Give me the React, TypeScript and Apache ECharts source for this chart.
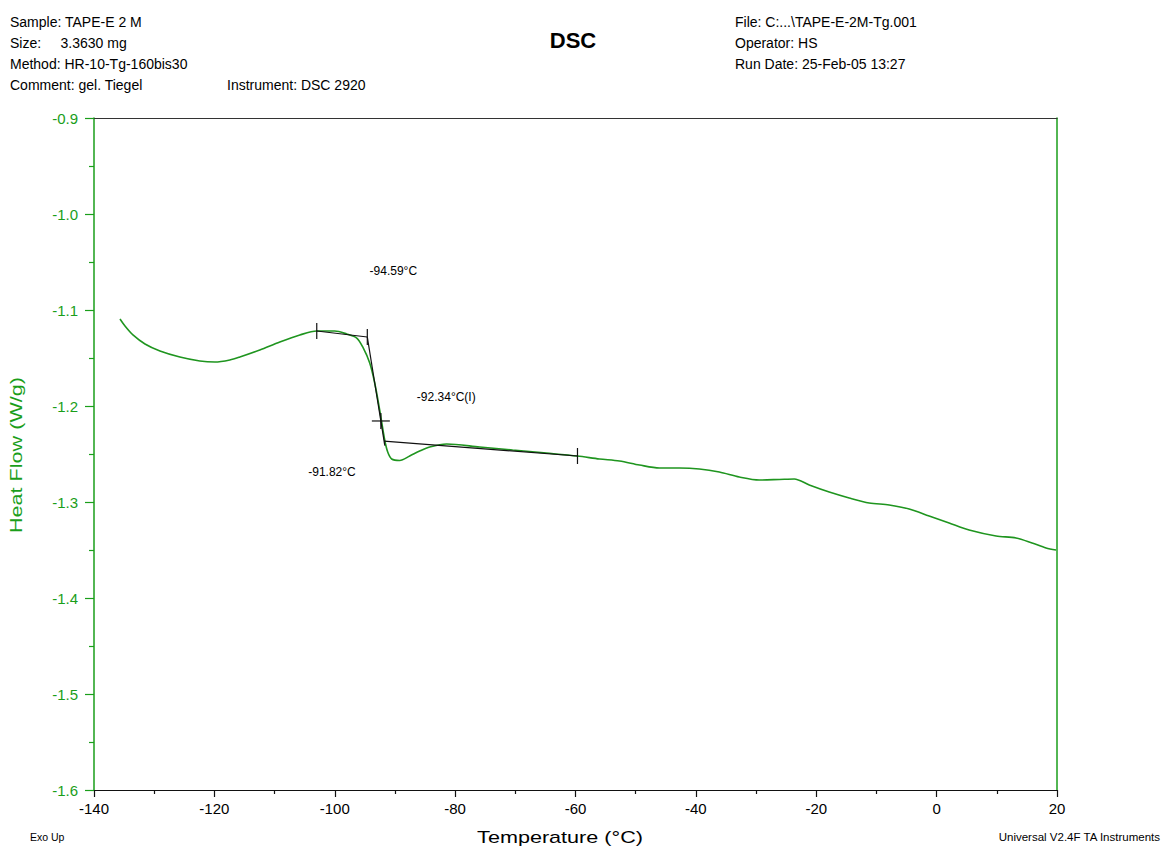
import { useEffect, useRef } from "react";
import * as echarts from "echarts";

// DSC trace: temperature (°C) and heat flow (W/g)
const temperature = [
  -135.68, -134.85, -133.53, -131.53, -129.04, -125.73, -122.41, -119.92, -117.43, -115.77,
  -112.45, -109.13, -105.81, -102.99, -100.0, -98.01, -96.35, -95.35, -94.19, -93.36,
  -92.53, -91.7, -91.2, -90.54, -89.21, -87.55, -85.89, -84.23, -81.41, -75.93,
  -70.45, -64.81, -59.67, -56.01, -52.69, -49.37, -46.05, -42.74, -39.42, -36.1,
  -32.78, -29.46, -26.14, -23.65, -21.16, -17.84, -14.52, -11.2, -7.88, -4.56,
  -1.24, 2.08, 5.4, 9.88, 13.2, 15.86, 18.18, 19.84,
];
const heatFlow = [
  -1.1094, -1.1167, -1.126, -1.1354, -1.1427, -1.149, -1.1531, -1.1542, -1.1521, -1.149,
  -1.1417, -1.1333, -1.126, -1.1219, -1.1219, -1.125, -1.1292, -1.1385, -1.1552, -1.176,
  -1.2042, -1.2354, -1.2479, -1.2552, -1.2568, -1.2521, -1.2469, -1.2427, -1.2396, -1.2427,
  -1.2458, -1.249, -1.2521, -1.2552, -1.2573, -1.2615, -1.2646, -1.2646, -1.2656, -1.2688,
  -1.274, -1.2771, -1.2765, -1.276, -1.2823, -1.2896, -1.2958, -1.301, -1.3031, -1.3073,
  -1.3146, -1.3219, -1.3292, -1.3354, -1.3375, -1.3427, -1.3479, -1.35,
];

// Axis ranges
const xMin = -140;
const xMax = 20;
const xStep = 20;
const yMin = -1.6;
const yMax = -0.9;
const yStep = 0.1;

// Glass transition analysis
const onsetT = -94.59;
const onsetHF = -1.1281;
const inflectionT = -92.34;
const inflectionHF = -1.2156;
const endT = -91.82;
const endHF = -1.2365;
const baselineBefore = [[-102.99, -1.1219], [onsetT, onsetHF]];
const tangent = [[onsetT, onsetHF], [-91.68, -1.2413]];
const baselineAfter = [[endT, endHF], [-59.67, -1.2521]];
// [T, HF, kind] kind 0 = vertical tick, 1 = cross
const limitMarks = [
  [-102.99, -1.1219, 0],
  [onsetT, onsetHF, 0],
  [-59.67, -1.2521, 0],
  [inflectionT, inflectionHF, 1],
];
const analysisLabels = [
  `${onsetT.toFixed(2)}°C`,
  `${inflectionT.toFixed(2)}°C(I)`,
  `${endT.toFixed(2)}°C`,
];

// Header information
const sampleInfo = [
  "Sample: TAPE-E 2 M",
  "Size:\u00a0\u00a0\u00a0\u00a0 3.3630 mg",
  "Method: HR-10-Tg-160bis30",
  "Comment: gel. Tiegel",
];
const instrumentInfo = "Instrument: DSC 2920";
const runInfo = ["File: C:...\\TAPE-E-2M-Tg.001", "Operator: HS", "Run Date: 25-Feb-05 13:27"];
const chartTitle = "DSC";
const xTitle = "Temperature (°C)";
const yTitle = "Heat Flow (W/g)";
const exoNote = "Exo Up";
const softwareNote = "Universal V2.4F TA Instruments";

const FONT = '"Liberation Sans", Arial, sans-serif';
const GREEN = "#1a9e1a";
const CURVE = "#1f951f";
const INK = "#111111";
const LINE_TOP = 22;
const LINE_GAP = 21;

export default function App() {
  const ref = useRef<HTMLDivElement>(null);

  useEffect(() => {
    if (!ref.current) return;
    const chart = echarts.init(ref.current, undefined, { renderer: "svg" });

    const headerText = (text: string, x: number, y: number) => ({
      type: "text",
      x,
      y,
      style: { text, font: `14px ${FONT}`, fill: "#000", verticalAlign: "middle" },
    });
    const headerLines: any[] = [];
    sampleInfo.forEach((t, i) => headerLines.push(headerText(t, 10, LINE_TOP + i * LINE_GAP)));
    headerLines.push(headerText(instrumentInfo, 227, LINE_TOP + 3 * LINE_GAP));
    runInfo.forEach((t, i) => headerLines.push(headerText(t, 735, LINE_TOP + i * LINE_GAP)));

    const option: any = {
      animation: false,
      backgroundColor: "#ffffff",
      grid: { left: 94, right: 105, top: 118, bottom: 60 },
      graphic: [
        ...headerLines,
        {
          type: "text",
          x: 573,
          y: 40,
          style: {
            text: chartTitle,
            font: `bold 22px ${FONT}`,
            fill: "#000",
            align: "center",
            verticalAlign: "middle",
          },
        },
        {
          type: "text",
          x: 560,
          y: 838,
          scaleX: 1.35,
          style: { text: xTitle, font: `16px ${FONT}`, fill: "#000", align: "center", verticalAlign: "middle" },
        },
        {
          type: "text",
          x: 17,
          y: 455,
          rotation: Math.PI / 2,
          scaleX: 1.35,
          style: { text: yTitle, font: `16px ${FONT}`, fill: GREEN, align: "center", verticalAlign: "middle" },
        },
        {
          type: "text",
          x: 30,
          y: 837,
          style: { text: exoNote, font: `10.5px ${FONT}`, fill: "#000", verticalAlign: "middle" },
        },
        {
          type: "text",
          x: 1160,
          y: 837,
          style: {
            text: softwareNote,
            font: `11.5px ${FONT}`,
            fill: "#000",
            align: "right",
            verticalAlign: "middle",
          },
        },
      ],
      xAxis: [
        {
          type: "value",
          min: xMin,
          max: xMax,
          interval: xStep,
          position: "bottom",
          axisLine: { show: true, onZero: false, lineStyle: { color: INK, width: 1.2 } },
          axisTick: { show: true, length: 7, lineStyle: { color: INK, width: 1.2 } },
          minorTick: { show: true, splitNumber: 2, length: 4, lineStyle: { color: INK, width: 1.2 } },
          axisLabel: { color: "#000", fontSize: 15, fontFamily: FONT, margin: 11 },
          splitLine: { show: false },
        },
        {
          type: "value",
          min: xMin,
          max: xMax,
          interval: xStep,
          position: "top",
          axisLine: { show: true, onZero: false, lineStyle: { color: "#333", width: 1.2 } },
          axisTick: { show: false },
          axisLabel: { show: false },
          splitLine: { show: false },
        },
      ],
      yAxis: [
        {
          type: "value",
          min: yMin,
          max: yMax,
          interval: yStep,
          position: "left",
          axisLine: { show: true, onZero: false, lineStyle: { color: GREEN, width: 1.5 } },
          axisTick: { show: true, length: 9, lineStyle: { color: GREEN, width: 1.2 } },
          minorTick: { show: true, splitNumber: 2, length: 5, lineStyle: { color: GREEN, width: 1.2 } },
          axisLabel: {
            color: GREEN,
            fontSize: 15,
            fontFamily: FONT,
            margin: 16,
            formatter: (v: number) => v.toFixed(1),
          },
          splitLine: { show: false },
        },
        {
          type: "value",
          min: yMin,
          max: yMax,
          interval: yStep,
          position: "right",
          axisLine: { show: true, onZero: false, lineStyle: { color: GREEN, width: 1.5 } },
          axisTick: { show: false },
          axisLabel: { show: false },
          splitLine: { show: false },
        },
      ],
      series: [
        {
          type: "line",
          data: temperature.map((t, i) => [t, heatFlow[i]]),
          showSymbol: false,
          smooth: 0.3,
          lineStyle: { color: CURVE, width: 1.6 },
          z: 2,
        },
        {
          type: "line",
          data: baselineBefore,
          showSymbol: false,
          lineStyle: { color: INK, width: 1.2 },
          z: 3,
        },
        {
          type: "line",
          data: tangent,
          showSymbol: false,
          lineStyle: { color: INK, width: 1.2 },
          z: 3,
        },
        {
          type: "line",
          data: baselineAfter,
          showSymbol: false,
          lineStyle: { color: INK, width: 1.2 },
          z: 3,
        },
        {
          type: "custom",
          data: limitMarks,
          z: 4,
          renderItem: (_params: any, api: any) => {
            const p = api.coord([api.value(0), api.value(1)]);
            const kind = api.value(2);
            const style = { stroke: INK, lineWidth: 1.2 };
            const children: any[] = [
              { type: "line", shape: { x1: p[0], y1: p[1] - 8, x2: p[0], y2: p[1] + 8 }, style },
            ];
            if (kind === 1) {
              children.push({
                type: "line",
                shape: { x1: p[0] - 9, y1: p[1], x2: p[0] + 9, y2: p[1] },
                style,
              });
            }
            return { type: "group", children };
          },
        },
        {
          type: "custom",
          data: [
            [onsetT, onsetHF, 26, -66],
            [inflectionT, inflectionHF, 36, -24],
            [endT, endHF, -52, 31],
          ],
          z: 4,
          renderItem: (params: any, api: any) => {
            const p = api.coord([api.value(0), api.value(1)]);
            const i = params.dataIndex;
            return {
              type: "text",
              x: p[0] + api.value(2),
              y: p[1] + api.value(3),
              style: {
                text: analysisLabels[i],
                font: `12px ${FONT}`,
                fill: "#000",
                align: i === 1 ? "left" : "center",
                verticalAlign: "middle",
              },
            };
          },
        },
      ],
    };

    chart.setOption(option);
    return () => chart.dispose();
  }, []);

  return (
    <div
      ref={ref}
      style={{ position: "fixed", left: 0, top: 0, width: 1162, height: 850, background: "#fff" }}
    />
  );
}
